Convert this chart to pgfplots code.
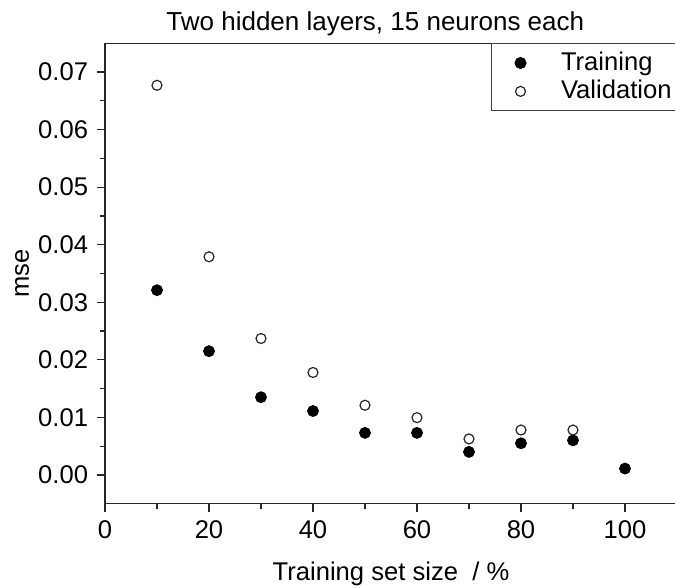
\documentclass[border=0pt]{standalone}
\usepackage{fontspec}
\setmainfont{Liberation Sans}
\usepackage{pgfplots}
\pgfplotsset{compat=1.18}

\begin{document}
\fontsize{12.8}{15}\selectfont
\begin{tikzpicture}
\begin{axis}[
  name=ax,
  scale only axis,
  width=286pt, height=230.2pt,
  xmin=0, xmax=110,
  ymin=-0.005, ymax=0.075,
  axis line style={black!85, line width=0.7pt},
  xtick={0,20,40,60,80,100},
  ytick={0,0.01,0.02,0.03,0.04,0.05,0.06,0.07},
  minor xtick={10,30,50,70,90},
  minor ytick={0.005,0.015,0.025,0.035,0.045,0.055,0.065},
  xtick pos=left, ytick pos=left,
  tick align=outside,
  major tick length=4pt,
  minor tick length=2.5pt,
  tick style={black!85, line width=0.6pt},
  scaled y ticks=false,
  /pgf/number format/assume math mode=true,
  yticklabel style={/pgf/number format/fixed,
    /pgf/number format/precision=2,
    /pgf/number format/fixed zerofill},
  title={Two hidden layers, 15 neurons each},
  every axis title shift=0pt,
  title style={at={(0.4726,1)}, anchor=base, yshift=6.3pt,
    font=\fontsize{13}{16}\selectfont},
  xlabel={Training set size\ \ / \%},
  xlabel style={at={(0.5,0)}, anchor=base, yshift=-38.5pt},
  ylabel={mse},
  ylabel style={at={(-0.1451,0.5)}, anchor=center},
  legend style={at={(0.674,1)}, anchor=north west,
    draw=black!75, line width=0.5pt,
    inner xsep=12pt, inner ysep=2.5pt,
    nodes={inner sep=1.5pt},
    /tikz/every odd column/.append style={column sep=16pt}},
  legend cell align=left,
]
\addplot[only marks, mark=*, mark size=2.75pt, black] coordinates {
  (10,0.0321) (20,0.0215) (30,0.0135) (40,0.0111) (50,0.0073)
  (60,0.0073) (70,0.0040) (80,0.0055) (90,0.0060) (100,0.0011)};
\addlegendentry{Training}
\addplot[only marks, mark=o, mark size=2.5pt, black!85,
  mark options={line width=0.6pt}] coordinates {
  (10,0.0677) (20,0.0379) (30,0.0237) (40,0.0178) (50,0.0121)
  (60,0.00995) (70,0.00625) (80,0.0078) (90,0.0078)};
\addlegendentry{Validation}
\end{axis}
\pgfresetboundingbox
\path[use as bounding box] ([shift={(-52.5pt,-42.15pt)}]ax.south west)
  rectangle ([shift={(-1pt,21.65pt)}]ax.north east);
\end{tikzpicture}
\end{document}
